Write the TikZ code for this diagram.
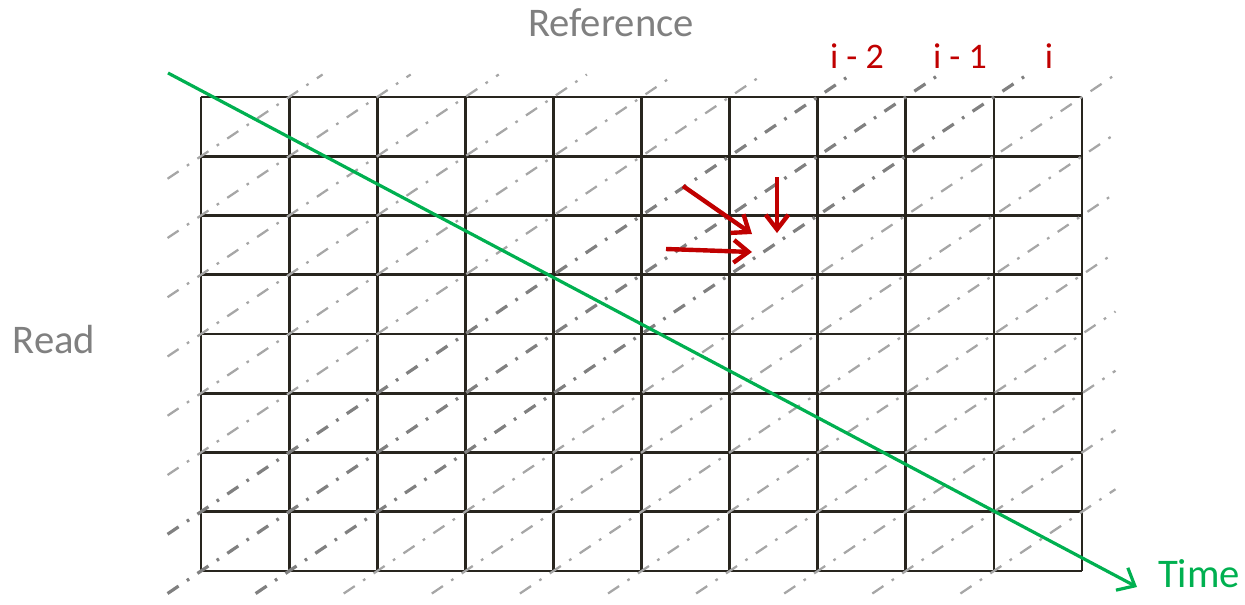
\documentclass[tikz,border=0pt]{standalone}
\usepackage{fontspec}
\setmainfont{Carlito}
\usetikzlibrary{arrows.meta}
\definecolor{gridc}{RGB}{40,37,30}
\definecolor{darkd}{RGB}{128,128,128}
\definecolor{lightd}{RGB}{166,166,166}
\definecolor{txtgray}{RGB}{128,128,128}
\definecolor{myred}{RGB}{192,0,0}
\definecolor{mygreen}{RGB}{0,176,80}
\tikzset{
  gridline/.style={draw=gridc, line width=2.1pt},
  diaglight/.style={draw=lightd, line width=1.7pt, dash pattern=on 10pt off 7.5pt on 2pt off 7.5pt},
  diagdark/.style={draw=darkd, line width=2.4pt, dash pattern=on 10pt off 7.5pt on 2pt off 7.5pt},
  deparrow/.style={draw=myred, line width=3.3pt, -{Straight Barb[length=11pt,width=17pt,line width=3.3pt]}},
  timearrow/.style={draw=mygreen, line width=2.4pt, -{Straight Barb[length=11pt,width=19pt,line width=2.4pt]}},
  bigtext/.style={font=\fontsize{30.5pt}{36pt}\selectfont, inner sep=0pt, anchor=base},
  idxtext/.style={font=\fontsize{27pt}{32pt}\selectfont, text=myred, inner sep=0pt, anchor=base},
}
\begin{document}
\begin{tikzpicture}[x=0.75pt,y=-0.75pt]
\useasboundingbox (0,0) rectangle (1245,604);
% grid
\foreach \c in {0,...,10} {
  \draw[gridline] ({201+88.1*\c},97) -- ({201+88.1*\c},571);
}
\foreach \r in {0,...,8} {
  \draw[gridline] (201,{97+59.25*\r}) -- (1082,{97+59.25*\r});
}
% anti-diagonals
\foreach \k in {-7,...,9} {
  \pgfmathsetmacro{\cs}{max(0,\k)-0.38}
  \pgfmathsetmacro{\ce}{min(10,8+\k)+0.38}
  \pgfmathsetmacro{\xs}{201+88.1*\cs}
  \pgfmathsetmacro{\ys}{571-59.25*(\cs-\k)}
  \pgfmathsetmacro{\xe}{201+88.1*\ce}
  \pgfmathsetmacro{\ye}{571-59.25*(\ce-\k)}
  \ifnum\k<-1
    \draw[diaglight] (\xs,\ys) -- (\xe,\ye);
  \else\ifnum\k>1
    \draw[diaglight] (\xs,\ys) -- (\xe,\ye);
  \else
    \draw[diagdark] (\xs,\ys) -- (\xe,\ye);
  \fi\fi
}
% labels
\node[bigtext, text=txtgray] (ref) at (611,36) {Reference};
\node[bigtext, text=txtgray] (read) at (54,353) {Read};
\node[bigtext, text=mygreen] (time) at (1199,587) {Time};
\node[idxtext] (l2) at (857,68) {i - 2};
\node[idxtext] (l1) at (960,68) {i - 1};
\node[idxtext] (l0) at (1049,68) {i};
% time arrow
\coordinate (ts) at (168,73);
\coordinate (te) at (1137,587);
\draw[timearrow] (ts) -- (te);
% dependency arrows
\coordinate (da) at (683,186);
\coordinate (db) at (752,234);
\coordinate (va) at (777,177);
\coordinate (vb) at (777,233);
\coordinate (ha) at (666,249);
\coordinate (hb) at (752,252);
\draw[deparrow] (da) -- (db);
\draw[deparrow] (va) -- (vb);
\draw[deparrow] (ha) -- (hb);
\end{tikzpicture}
\end{document}
